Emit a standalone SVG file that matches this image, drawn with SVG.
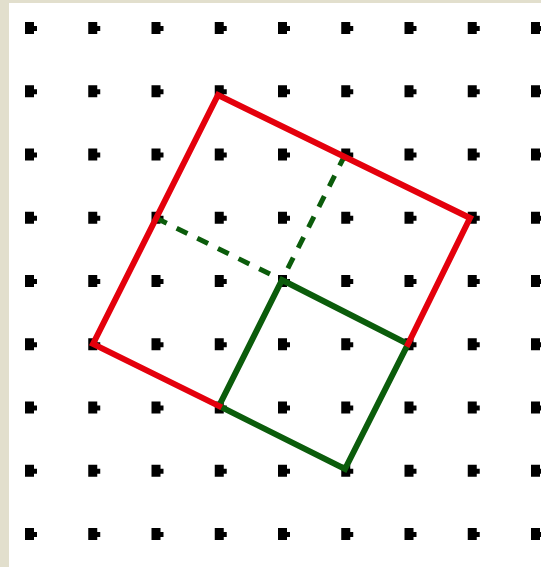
<svg xmlns="http://www.w3.org/2000/svg" xmlns:xlink="http://www.w3.org/1999/xlink" width="541" height="567" viewBox="0 0 541 567">
<style>
.red{fill:none;stroke:#e4000c;stroke-width:6;stroke-linejoin:miter;stroke-linecap:square}
.green{fill:none;stroke:#0b5c0b;stroke-width:6;stroke-linejoin:miter;stroke-linecap:square}
.dash{fill:none;stroke:#0b5c0b;stroke-width:5;stroke-dasharray:12 11}
.dot{fill:#000}
</style>
<defs>
<path id="d" class="dot" d="M-6,-6 h9 v4 h3 v5 h-3 v3 h-9 z"/>
</defs>
<rect x="0" y="0" width="541" height="567" fill="#ffffff"/>
<rect x="0" y="0" width="541" height="3" fill="#e2dfcd"/>
<rect x="0" y="0" width="9" height="567" fill="#e2dfcd"/>
<g id="grid">
<use xlink:href="#d" x="31" y="28"/><use xlink:href="#d" x="94.25" y="28"/><use xlink:href="#d" x="157.5" y="28"/><use xlink:href="#d" x="220.75" y="28"/><use xlink:href="#d" x="284" y="28"/><use xlink:href="#d" x="347.25" y="28"/><use xlink:href="#d" x="410.5" y="28"/><use xlink:href="#d" x="473.75" y="28"/><use xlink:href="#d" x="537" y="28"/>
<use xlink:href="#d" x="31" y="91.25"/><use xlink:href="#d" x="94.25" y="91.25"/><use xlink:href="#d" x="157.5" y="91.25"/><use xlink:href="#d" x="220.75" y="91.25"/><use xlink:href="#d" x="284" y="91.25"/><use xlink:href="#d" x="347.25" y="91.25"/><use xlink:href="#d" x="410.5" y="91.25"/><use xlink:href="#d" x="473.75" y="91.25"/><use xlink:href="#d" x="537" y="91.25"/>
<use xlink:href="#d" x="31" y="154.5"/><use xlink:href="#d" x="94.25" y="154.5"/><use xlink:href="#d" x="157.5" y="154.5"/><use xlink:href="#d" x="220.75" y="154.5"/><use xlink:href="#d" x="284" y="154.5"/><use xlink:href="#d" x="347.25" y="154.5"/><use xlink:href="#d" x="410.5" y="154.5"/><use xlink:href="#d" x="473.75" y="154.5"/><use xlink:href="#d" x="537" y="154.5"/>
<use xlink:href="#d" x="31" y="217.75"/><use xlink:href="#d" x="94.25" y="217.75"/><use xlink:href="#d" x="157.5" y="217.75"/><use xlink:href="#d" x="220.75" y="217.75"/><use xlink:href="#d" x="284" y="217.75"/><use xlink:href="#d" x="347.25" y="217.75"/><use xlink:href="#d" x="410.5" y="217.75"/><use xlink:href="#d" x="473.75" y="217.75"/><use xlink:href="#d" x="537" y="217.75"/>
<use xlink:href="#d" x="31" y="281"/><use xlink:href="#d" x="94.25" y="281"/><use xlink:href="#d" x="157.5" y="281"/><use xlink:href="#d" x="220.75" y="281"/><use xlink:href="#d" x="284" y="281"/><use xlink:href="#d" x="347.25" y="281"/><use xlink:href="#d" x="410.5" y="281"/><use xlink:href="#d" x="473.75" y="281"/><use xlink:href="#d" x="537" y="281"/>
<use xlink:href="#d" x="31" y="344.25"/><use xlink:href="#d" x="94.25" y="344.25"/><use xlink:href="#d" x="157.5" y="344.25"/><use xlink:href="#d" x="220.75" y="344.25"/><use xlink:href="#d" x="284" y="344.25"/><use xlink:href="#d" x="347.25" y="344.25"/><use xlink:href="#d" x="410.5" y="344.25"/><use xlink:href="#d" x="473.75" y="344.25"/><use xlink:href="#d" x="537" y="344.25"/>
<use xlink:href="#d" x="31" y="407.5"/><use xlink:href="#d" x="94.25" y="407.5"/><use xlink:href="#d" x="157.5" y="407.5"/><use xlink:href="#d" x="220.75" y="407.5"/><use xlink:href="#d" x="284" y="407.5"/><use xlink:href="#d" x="347.25" y="407.5"/><use xlink:href="#d" x="410.5" y="407.5"/><use xlink:href="#d" x="473.75" y="407.5"/><use xlink:href="#d" x="537" y="407.5"/>
<use xlink:href="#d" x="31" y="470.75"/><use xlink:href="#d" x="94.25" y="470.75"/><use xlink:href="#d" x="157.5" y="470.75"/><use xlink:href="#d" x="220.75" y="470.75"/><use xlink:href="#d" x="284" y="470.75"/><use xlink:href="#d" x="347.25" y="470.75"/><use xlink:href="#d" x="410.5" y="470.75"/><use xlink:href="#d" x="473.75" y="470.75"/><use xlink:href="#d" x="537" y="470.75"/>
<use xlink:href="#d" x="31" y="534"/><use xlink:href="#d" x="94.25" y="534"/><use xlink:href="#d" x="157.5" y="534"/><use xlink:href="#d" x="220.75" y="534"/><use xlink:href="#d" x="284" y="534"/><use xlink:href="#d" x="347.25" y="534"/><use xlink:href="#d" x="410.5" y="534"/><use xlink:href="#d" x="473.75" y="534"/><use xlink:href="#d" x="537" y="534"/>
</g>
<g id="connectors">
<path id="dash-ab" class="dash" d="M345,155 L282,280"/>
<path id="dash-ad" class="dash" d="M156,218 L282,280"/>
<path id="green-square" class="green" d="M282,280 L408,344 L345,469 L219,406 Z"/>
<path id="red-outline" class="red" d="M408,344 L470,218 L218,95 L93,344 L219,406"/>
</g>
</svg>
